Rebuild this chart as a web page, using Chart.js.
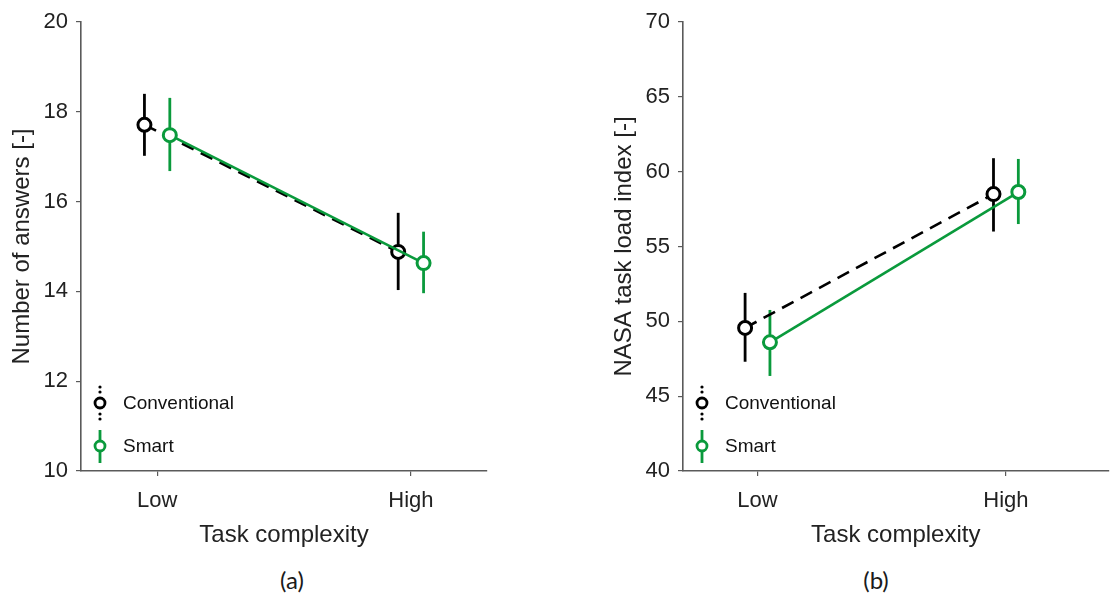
<!DOCTYPE html>
<html>
<head>
<meta charset="utf-8">
<script src="https://cdn.jsdelivr.net/npm/chart.js@4.4.1/dist/chart.umd.min.js"></script>
<style>
  body { margin: 0; background: #fff; width: 1118px; height: 598px; overflow: hidden; position: relative; }
  .box { position: absolute; top: 0; height: 560px; }
  #boxA { left: 0; width: 560px; }
  #boxB { left: 602px; width: 516px; }
  .cap { position: absolute; top: 565px; font: 24px Lato, "Open Sans", sans-serif; color: #1a1a1a; transform: translateX(-50%); }
</style>
</head>
<body>
<div class="box" id="boxA"><canvas id="chartA"></canvas></div>
<div class="box" id="boxB"><canvas id="chartB"></canvas></div>
<div class="cap" style="left:292px">(a)</div>
<div class="cap" style="left:876px">(b)</div>
<script>
// categories and series
const categories = ['Low', 'High'];
const seriesNames = ['Conventional', 'Smart'];

// (a) number of answers
const answersConvMean = [17.71, 14.88];
const answersConvLow  = [17.02, 14.03];
const answersConvHigh = [18.40, 15.75];
const answersSmartMean = [17.48, 14.63];
const answersSmartLow  = [16.68, 13.96];
const answersSmartHigh = [18.31, 15.33];
const answersTicks = [10, 12, 14, 16, 18, 20];

// (b) NASA task load index
const nasaConvMean = [49.56, 58.50];
const nasaConvLow  = [47.30, 56.00];
const nasaConvHigh = [51.90, 60.90];
const nasaSmartMean = [48.60, 58.64];
const nasaSmartLow  = [46.35, 56.50];
const nasaSmartHigh = [50.76, 60.85];
const nasaTicks = [40, 45, 50, 55, 60, 65, 70];

const black = '#000000';
const green = '#0a9a3c';
const axisColor = '#5a5a5a';
const dodge = 0.05;
const sans = '"Liberation Sans", Arial, sans-serif';

function points(mean, shift) {
    return mean.map((v, i) => ({ x: i + 1 + shift, y: v }));
}

// vertical error bars drawn under the markers
const errorBars = {
    id: 'errorBars',
    beforeDatasetsDraw(chart) {
        const { ctx, scales: { x, y } } = chart;
        chart.data.datasets.forEach(ds => {
            ctx.save();
            ctx.strokeStyle = ds.borderColor;
            ctx.lineWidth = 2.8;
            ds.data.forEach((p, i) => {
                const px = x.getPixelForValue(p.x);
                ctx.beginPath();
                ctx.moveTo(px, y.getPixelForValue(ds.errLow[i]));
                ctx.lineTo(px, y.getPixelForValue(ds.errHigh[i]));
                ctx.stroke();
            });
            ctx.restore();
        });
    }
};

// legend inside the plot, lower left
const insideLegend = {
    id: 'insideLegend',
    afterDraw(chart) {
        const { ctx, chartArea } = chart;
        const mx = chartArea.left + 19;
        const rows = [chartArea.bottom - 68, chartArea.bottom - 25];
        const sets = seriesNames.map(n => chart.data.datasets.find(d => d.label === n));
        ctx.save();
        sets.forEach((ds, k) => {
            const cy = rows[k];
            ctx.strokeStyle = ds.borderColor;
            ctx.lineWidth = 2.8;
            if (k === 0) {
                ctx.fillStyle = ds.borderColor;
                [-16, -11, 11, 16].forEach(d => {
                    ctx.beginPath();
                    ctx.arc(mx, cy + d, 1.6, 0, Math.PI * 2);
                    ctx.fill();
                });
            } else {
                ctx.beginPath();
                ctx.moveTo(mx, cy - 16); ctx.lineTo(mx, cy + 17);
                ctx.stroke();
            }
            ctx.beginPath();
            ctx.arc(mx, cy, 5, 0, Math.PI * 2);
            ctx.fillStyle = '#fff';
            ctx.fill();
            ctx.stroke();
            ctx.fillStyle = '#111';
            ctx.font = '19px ' + sans;
            ctx.textBaseline = 'middle';
            ctx.fillText(ds.label, mx + 23, cy + 1);
        });
        ctx.restore();
    }
};

function makeChart(id, cfg) {
    const ctx = document.getElementById(id).getContext('2d');
    return new Chart(ctx, {
        type: 'line',
        data: {
            datasets: [{
                label: 'Conventional',
                data: points(cfg.convMean, -dodge),
                errLow: cfg.convLow, errHigh: cfg.convHigh,
                borderColor: black,
                borderDash: [13, 8],
                order: 1
            }, {
                label: 'Smart',
                data: points(cfg.smartMean, dodge),
                errLow: cfg.smartLow, errHigh: cfg.smartHigh,
                borderColor: green,
                order: 0
            }].map(ds => Object.assign(ds, {
                borderWidth: 2.6,
                pointRadius: 6.5,
                pointHoverRadius: 6.5,
                pointBorderWidth: 3,
                pointBackgroundColor: '#fff',
                pointBorderColor: ds.borderColor,
                fill: false,
                tension: 0
            }))
        },
        options: {
            responsive: true,
            maintainAspectRatio: false,
            animation: false,
            layout: { padding: { top: 22, right: cfg.padRight, bottom: 10, left: 0 } },
            plugins: { legend: { display: false }, tooltip: { enabled: false } },
            scales: {
                x: {
                    type: 'linear',
                    min: 0.7,
                    max: cfg.xMax,
                    afterBuildTicks: s => { s.ticks = categories.map((c, i) => ({ value: i + 1 })); },
                    afterFit: s => { s.height = 79; },
                    ticks: {
                        callback: v => categories[v - 1],
                        font: { family: sans, size: 22 },
                        color: '#222',
                        padding: 12,
                        maxRotation: 0
                    },
                    grid: { display: true, drawOnChartArea: false, tickLength: 5, color: axisColor, lineWidth: 1.2 },
                    border: { display: true, color: axisColor, width: 1.6 },
                    title: {
                        display: true, text: 'Task complexity', color: '#222',
                        font: { family: sans, size: 24 },
                        padding: { top: 0, bottom: 0 }
                    }
                },
                y: {
                    min: cfg.ticks[0],
                    max: cfg.ticks[cfg.ticks.length - 1],
                    afterBuildTicks: s => { s.ticks = cfg.ticks.map(v => ({ value: v })); },
                    afterFit: s => { s.width = 81; },
                    ticks: {
                        font: { family: sans, size: 22 },
                        color: '#222',
                        padding: 8
                    },
                    grid: { display: true, drawOnChartArea: false, tickLength: 5, color: axisColor, lineWidth: 1.2 },
                    border: { display: true, color: axisColor, width: 1.6 },
                    title: {
                        display: true, text: cfg.yTitle, color: '#222',
                        font: { family: sans, size: 24 },
                        padding: { top: 8, bottom: 0 }
                    }
                }
            }
        },
        plugins: [errorBars, insideLegend]
    });
}

makeChart('chartA', {
    convMean: answersConvMean, convLow: answersConvLow, convHigh: answersConvHigh,
    smartMean: answersSmartMean, smartLow: answersSmartLow, smartHigh: answersSmartHigh,
    ticks: answersTicks, yTitle: 'Number of answers [-]', xMax: 2.3, padRight: 73
});

makeChart('chartB', {
    convMean: nasaConvMean, convLow: nasaConvLow, convHigh: nasaConvHigh,
    smartMean: nasaSmartMean, smartLow: nasaSmartLow, smartHigh: nasaSmartHigh,
    ticks: nasaTicks, yTitle: 'NASA task load index [-]', xMax: 2.413, padRight: 0
});
</script>
</body>
</html>
